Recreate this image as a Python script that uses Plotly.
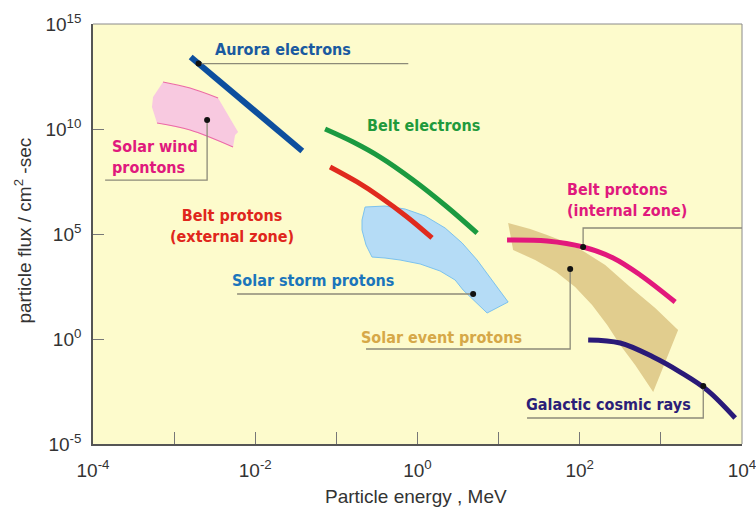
import numpy as np
import plotly.graph_objects as go

# ---- data: particle energy (MeV) vs flux (particles / cm^2 / s) ----
aurora_energy = [1.6e-3, 3.8e-2]
aurora_flux = [2.7e13, 9.0e8]

belt_e_energy = [0.0726, 0.161, 0.346, 0.883, 2.32, 5.43]
belt_e_flux = [1.0e10, 2.4e9, 4.6e8, 3.73e7, 1.93e6, 1.1e5]

belt_p_ext_energy = [0.0836, 0.180, 0.346, 0.745, 1.51]
belt_p_ext_flux = [1.55e8, 3.0e7, 5.8e6, 6.46e5, 6.5e4]

belt_p_int_energy = [12.7, 39.6, 110, 258, 556, 1500]
belt_p_int_flux = [5.2e4, 4.64e4, 2.4e4, 7.2e3, 1.12e3, 57.8]

galactic_energy = [127, 315, 804, 1730, 3720, 8240]
galactic_flux = [0.9, 0.645, 0.139, 0.0268, 3.7e-3, 1.73e-4]

# solar wind band (outline, clockwise)
solar_wind_energy = [7.3e-4, 1.57e-3, 3.48e-3, 6.14e-3, 5.64e-3, 5.32e-3,
                     1.57e-3, 6.15e-4, 5.33e-4, 5.5e-4]
solar_wind_flux = [1.73e12, 8.95e11, 3.0e11, 7.2e9, 5.2e9, 1.39e9,
                   8.95e9, 1.93e10, 1.12e11, 3.34e11]

# solar storm band: upper edge, lower tip, lower edge back, left side
solar_storm_energy = [0.226, 0.398, 0.703, 1.24, 2.19, 3.55, 5.43, 7.85, 10.4, 13.1,
                      7.21, 4.99, 3.65, 2.91, 1.90, 1.08, 0.61, 0.398, 0.275,
                      0.232, 0.207, 0.207]
solar_storm_flux = [1.93e6, 2.15e6, 1.55e6, 7.2e5, 1.93e5, 3.73e4, 5.78e3, 804, 193, 57.8,
                    17.3, 72, 215, 645, 1.73e3, 3.73e3, 5.78e3, 7.2e3, 8.0e3,
                    3.0e4, 1.55e5, 4.64e5]

# solar event band: upper edge, tip, lower edge back
solar_event_energy = [13.1, 24.5, 39.6, 66.1, 110, 206, 418, 851, 1630,
                      804, 482, 315, 218, 142, 87.7, 51.2, 28.2, 15.1]
solar_event_flux = [3.34e5, 1.73e5, 8.95e4, 4.16e4, 1.55e4, 3.34e3, 299, 29.9, 2.69,
                    2.99e-3, 0.0578, 0.518, 4.64, 41.6, 299, 1.55e3, 5.78e3, 1.73e4]

# callout leaders: (energy list, flux list), first point is the marked dot
leader_aurora = ([2.0e-3, 0.77], [1.3e13, 1.3e13])
leader_wind = ([2.55e-3, 2.55e-3, 1.41e-4], [2.7e10, 3.7e7, 3.7e7])
leader_storm = ([4.85, 5.97e-3], [139, 139])
leader_event = ([76.2, 76.2, 0.232], [2150, 0.334, 0.334])
leader_int = ([110, 110, 1e4], [2.4e4, 1.93e5, 1.93e5])
leader_gal = ([3330, 3330, 22.4], [5.78e-3, 1.73e-4, 1.73e-4])

x_tick_vals = [1e-4, 1e-3, 1e-2, 1e-1, 1, 10, 100, 1e3, 1e4]
x_tick_text = ["10<sup>-4</sup>", "", "10<sup>-2</sup>", "", "10<sup>0</sup>", "",
               "10<sup>2</sup>", "", "10<sup>4</sup>"]
y_tick_vals = [1e-5, 1, 1e5, 1e10, 1e15]
y_tick_text = ["10<sup>-5</sup>", "10<sup>0</sup>", "10<sup>5</sup>",
               "10<sup>10</sup>", "10<sup>15</sup>"]

LABEL_FONT = "DejaVu Sans Condensed, Liberation Sans Narrow, sans-serif"
AXIS_FONT = "Liberation Sans, Arial, sans-serif"

fig = go.Figure()


def band(xs, ys, fill, edge):
    fig.add_trace(go.Scatter(
        x=xs + xs[:1], y=ys + ys[:1], mode="lines", fill="toself",
        fillcolor=fill, line=dict(color=edge, width=1), hoverinfo="skip"))


def curve(xs, ys, color, width=5, shape="spline"):
    fig.add_trace(go.Scatter(
        x=xs, y=ys, mode="lines", line=dict(color=color, width=width, shape=shape),
        hoverinfo="skip"))


# bands
band(solar_wind_energy, solar_wind_flux, "#f8c9e0", "rgba(0,0,0,0)")
# darker rim on the top and bottom edges of the solar wind band
curve(solar_wind_energy[0:3], solar_wind_flux[0:3], "#ec6aa6", width=1.2)
curve(solar_wind_energy[5:8], solar_wind_flux[5:8], "#ec6aa6", width=1.2)
band(solar_storm_energy, solar_storm_flux, "#b5dcf6", "#7cc2ee")
band(solar_event_energy, solar_event_flux, "rgba(222,200,135,0.9)", "rgba(0,0,0,0)")

# spectra
curve(aurora_energy, aurora_flux, "#0d4f9e", width=6, shape="linear")
curve(belt_e_energy, belt_e_flux, "#1b9a40")
curve(belt_p_ext_energy, belt_p_ext_flux, "#e02a1e")
curve(belt_p_int_energy, belt_p_int_flux, "#e2187c")
curve(galactic_energy, galactic_flux, "#2a1a78")

# callout leaders with dots
for lx, ly in [leader_aurora, leader_wind, leader_storm, leader_event,
               leader_int, leader_gal]:
    fig.add_trace(go.Scatter(x=lx, y=ly, mode="lines",
                             line=dict(color="#8c8a78", width=1.3), hoverinfo="skip"))
    fig.add_trace(go.Scatter(x=lx[:1], y=ly[:1], mode="markers",
                             marker=dict(color="#111111", size=6), hoverinfo="skip"))

# text labels: (text, energy, flux, colour, anchor, align)
labels = [
    ("Aurora electrons", 0.022, 5.8e13, "#1a5aa0", "center", "center"),
    ("Belt electrons", 1.2, 1.55e10, "#1f9a3c", "center", "center"),
    ("Solar wind<br>prontons", 1.62e-4, 4.6e8, "#e0197d", "left", "left"),
    ("Belt protons<br>(external zone)", 5.2e-3, 2.4e5, "#e0261c", "center", "center"),
    ("Solar storm protons", 0.052, 580, "#1b75bb", "center", "center"),
    ("Solar event protons", 1.96, 1.24, "#d6a848", "center", "center"),
    ("Belt protons<br>(internal zone)", 66, 4.2e6, "#e0197d", "left", "left"),
    ("Galactic cosmic rays", 224, 8.0e-4, "#2b1e78", "center", "center"),
]
annotations = []
for text, e, f, color, anchor, align in labels:
    annotations.append(dict(
        x=np.log10(e), y=np.log10(f), xref="x", yref="y", text=text,
        showarrow=False, xanchor=anchor, yanchor="middle", align=align,
        font=dict(family=LABEL_FONT, size=16, color=color, weight="bold")))

annotations.append(dict(
    x=-0.107, y=0.507, xref="paper", yref="paper", textangle=-90,
    xanchor="center", yanchor="middle",
    text="particle flux / cm<sup>2</sup> -sec", showarrow=False,
    font=dict(family=AXIS_FONT, size=19, color="#333333")))
annotations.append(dict(
    x=0.4977, y=-0.126, xref="paper", yref="paper",
    xanchor="center", yanchor="middle",
    text="Particle energy , MeV", showarrow=False,
    font=dict(family=AXIS_FONT, size=19, color="#333333")))

fig.update_layout(
    width=756, height=512,
    margin=dict(l=93, r=14, t=24, b=68),
    paper_bgcolor="white",
    plot_bgcolor="#fdfbcc",
    showlegend=False,
    annotations=annotations,
    shapes=[
        dict(type="line", xref="paper", yref="paper", x0=0, x1=1, y0=1, y1=1,
             line=dict(color="#8a8a8a", width=1)),
        dict(type="line", xref="paper", yref="paper", x0=1, x1=1, y0=0, y1=1,
             line=dict(color="#8a8a8a", width=1)),
    ],
)
fig.update_xaxes(
    type="log", range=[-4, 4], showgrid=False, zeroline=False, automargin=False,
    tickvals=x_tick_vals, ticktext=x_tick_text, ticks="inside", ticklen=12,
    tickcolor="#777777", tickwidth=1.3, ticklabelstandoff=8,
    ticklabeloverflow="allow",
    showline=True, linecolor="#555555", linewidth=1.6,
    tickfont=dict(family=AXIS_FONT, size=19, color="#333333"))
fig.update_yaxes(
    type="log", range=[-5, 15], showgrid=False, zeroline=False, automargin=False,
    tickvals=y_tick_vals, ticktext=y_tick_text, ticks="inside", ticklen=11,
    tickcolor="#777777", tickwidth=1.3, ticklabelstandoff=6,
    ticklabeloverflow="allow",
    showline=True, linecolor="#555555", linewidth=1.6,
    tickfont=dict(family=AXIS_FONT, size=19, color="#333333"))

fig.write_html("out.html")
